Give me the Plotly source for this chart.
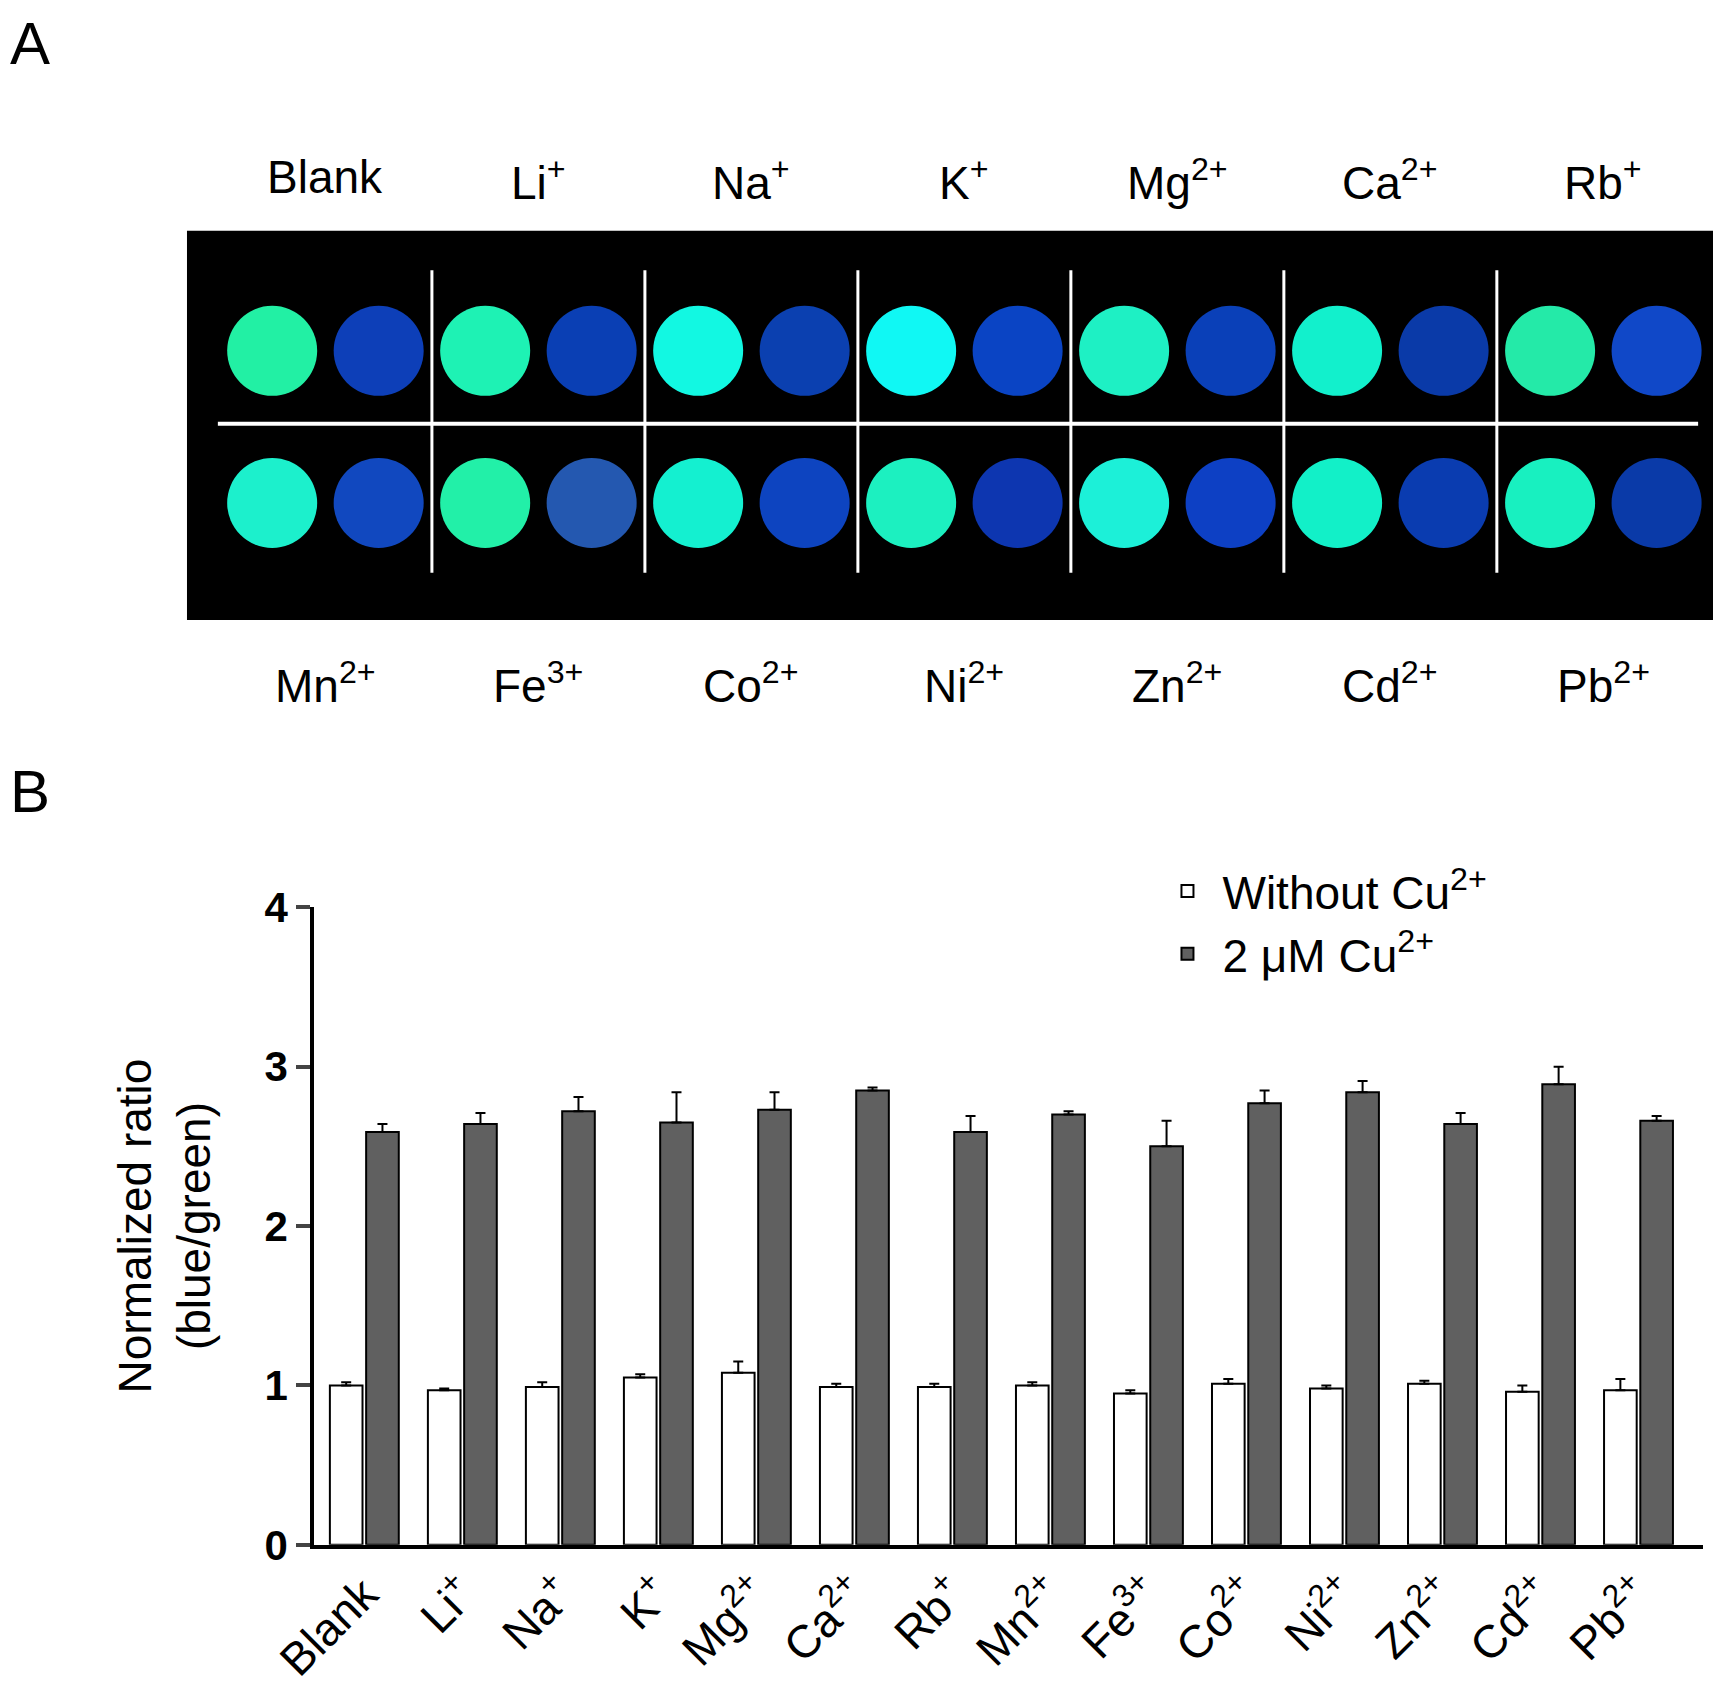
import plotly.graph_objects as go

ions = ["Blank", "Li<sup>+</sup>", "Na<sup>+</sup>", "K<sup>+</sup>", "Mg<sup>2+</sup>", "Ca<sup>2+</sup>", "Rb<sup>+</sup>",
        "Mn<sup>2+</sup>", "Fe<sup>3+</sup>", "Co<sup>2+</sup>", "Ni<sup>2+</sup>", "Zn<sup>2+</sup>", "Cd<sup>2+</sup>", "Pb<sup>2+</sup>"]
without_cu = [1.00, 0.97, 0.99, 1.05, 1.08, 0.99, 0.99, 1.00, 0.95, 1.01, 0.98, 1.01, 0.96, 0.97]
without_err = [0.02, 0.01, 0.03, 0.02, 0.07, 0.02, 0.02, 0.02, 0.02, 0.03, 0.02, 0.02, 0.04, 0.07]
with_cu = [2.59, 2.64, 2.72, 2.65, 2.73, 2.85, 2.59, 2.70, 2.50, 2.77, 2.84, 2.64, 2.89, 2.66]
with_err = [0.05, 0.07, 0.09, 0.19, 0.11, 0.02, 0.10, 0.02, 0.16, 0.08, 0.07, 0.07, 0.11, 0.03]

# Panel A: photo of spots (top row ions 1-7, bottom row ions 8-14), each ion: green spot then blue spot
top_labels = ions[:7]
bottom_labels = ions[7:]
top_colors = ["#22f0a4", "#1ef2b4", "#12f8e2", "#10f8f4", "#1ef0c4", "#12f0cc", "#24eaa8",
              "#0d3fb8", "#0a3fb4", "#0b40b0", "#0a44c4", "#0a40b8", "#0a3aa8", "#1048c8"]
bottom_colors = ["#1cf0cc", "#22f0a8", "#14f0d0", "#1cf0c0", "#1cf0d8", "#12f0c8", "#18f0c0",
                 "#1148bf", "#2458b0", "#0d44c0", "#0d36b0", "#0d40c4", "#0a3cb0", "#0a3aa8"]

font = "Liberation Sans, Arial, sans-serif"
fig = go.Figure()

fig.add_trace(go.Bar(x=list(range(14)), y=without_cu, name="Without Cu<sup>2+</sup>",
                     marker=dict(color="white", line=dict(color="black", width=2)),
                     error_y=dict(type="data", array=without_err, arrayminus=[0]*14, symmetric=False,
                                  color="black", thickness=2, width=5)))
fig.add_trace(go.Bar(x=list(range(14)), y=with_cu, name="2 μM Cu<sup>2+</sup>",
                     marker=dict(color="#606060", line=dict(color="black", width=2)),
                     error_y=dict(type="data", array=with_err, arrayminus=[0]*14, symmetric=False,
                                  color="black", thickness=2, width=5)))

spot_x = [2*i for i in range(7)] + [2*i+1 for i in range(7)]
fig.add_trace(go.Scatter(x=spot_x, y=[1]*14, mode="markers",
                         xaxis="x2", yaxis="y2", showlegend=False, hoverinfo="skip",
                         marker=dict(size=90, color=top_colors, line=dict(width=0))))
fig.add_trace(go.Scatter(x=spot_x, y=[0]*14, mode="markers",
                         xaxis="x2", yaxis="y2", showlegend=False, hoverinfo="skip",
                         marker=dict(size=90, color=bottom_colors, line=dict(width=0))))

shapes = [dict(type="rect", xref="x2 domain", yref="y2 domain", x0=0, x1=1, y0=0, y1=1,
               fillcolor="black", line=dict(width=0), layer="below"),
          dict(type="line", xref="x2", yref="y2", x0=-0.51, x1=13.39, y0=0.52, y1=0.52,
               line=dict(color="white", width=4))]
for k in range(6):
    xv = 2 * k + 1.5
    shapes.append(dict(type="line", xref="x2", yref="y2", x0=xv, x1=xv, y0=-0.46, y1=1.53,
                       line=dict(color="white", width=3)))

annotations = []
for i, t in enumerate(top_labels):
    annotations.append(dict(x=2*i+0.5, y=0.917, xref="x2", yref="paper", text=t, showarrow=False,
                            font=dict(size=46, family=font, color="black")))
for i, t in enumerate(bottom_labels):
    annotations.append(dict(x=2*i+0.5, y=0.603, xref="x2", yref="paper", text=t, showarrow=False,
                            font=dict(size=46, family=font, color="black")))
annotations.append(dict(x=0.0, y=1.0, xref="paper", yref="paper", text="A", showarrow=False,
                        xanchor="left", yanchor="top", font=dict(size=60, family=font, color="black")))
annotations.append(dict(x=0.0, y=0.56, xref="paper", yref="paper", text="B", showarrow=False,
                        xanchor="left", yanchor="top", font=dict(size=60, family=font, color="black")))

fig.update_layout(
    width=1721, height=1700, margin=dict(l=0, r=0, t=0, b=0, autoexpand=False),
    paper_bgcolor="white", plot_bgcolor="white",
    barmode="group", bargap=0.26, bargroupgap=0.1,
    font=dict(family=font, color="black"),
    xaxis=dict(domain=[0.178, 0.985], range=[-0.51, 13.66], tickmode="array",
               tickvals=list(range(14)), ticktext=ions, tickangle=-45,
               tickfont=dict(size=46, family=font), showline=True, linecolor="black", linewidth=4,
               ticks="", showgrid=False, zeroline=False, anchor="y", automargin=False),
    yaxis=dict(domain=[0.096, 0.471], range=[0, 4], tickvals=[0, 1, 2, 3, 4],
               ticktext=["<b>0</b>", "<b>1</b>", "<b>2</b>", "<b>3</b>", "<b>4</b>"],
               tickfont=dict(size=42, family=font), showline=True, linecolor="black", linewidth=4,
               ticks="outside", ticklen=14, tickwidth=4, showgrid=False, zeroline=False,
               title=dict(text="Normalized ratio<br>(blue/green)", font=dict(size=46, family=font), standoff=40),
               anchor="x", automargin=False),
    xaxis2=dict(domain=[0.104, 1.0], range=[-0.8, 13.68], visible=False, anchor="y2"),
    yaxis2=dict(domain=[0.640, 0.869], range=[-0.77, 1.79], visible=False, anchor="x2"),
    legend=dict(x=0.665, y=0.502, xanchor="left", yanchor="top", font=dict(size=46, family=font),
                bgcolor="rgba(0,0,0,0)", itemwidth=60, tracegroupgap=0),
    shapes=shapes, annotations=annotations,
)
fig.write_html("out.html")
